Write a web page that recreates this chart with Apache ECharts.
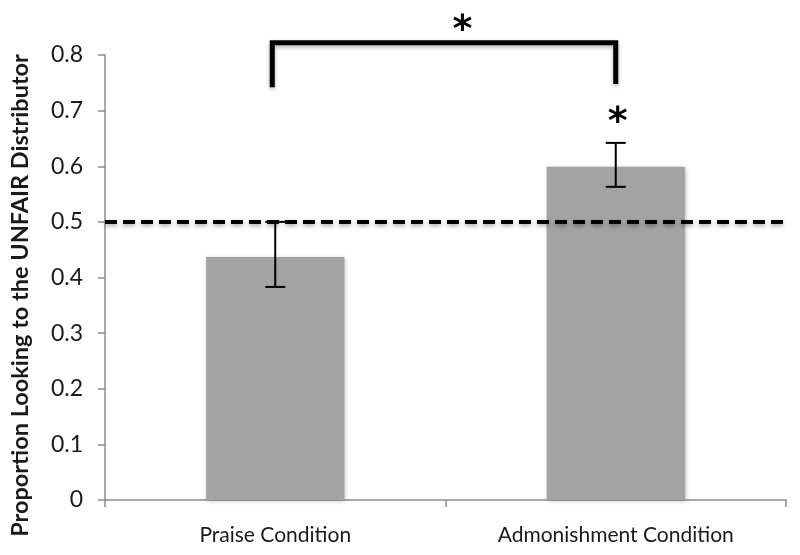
<!DOCTYPE html>
<html>
<head>
<meta charset="utf-8">
<script src="https://cdn.jsdelivr.net/npm/echarts@6/dist/echarts.min.js"></script>
<style>html,body{margin:0;padding:0;background:#fff}#c{width:800px;height:555px}</style>
</head>
<body>
<div id="c"></div>
<script>
const categories = ['Praise Condition', 'Admonishment Condition'];
const means = [0.437, 0.599];
const errLow = [0.383, 0.563];
const errHigh = [0.500, 0.642];
const chanceLevel = 0.5;
const yTicks = { min: 0, max: 0.8, interval: 0.1 };
// bracket: [left foot, right foot, top]
const bracket = [0.742, 0.748, 0.822];
const bracketStarY = 0.843;
const barStarY = 0.677;

const chart = echarts.init(document.getElementById('c'));
const font = 'Lato, "Open Sans", sans-serif';

chart.setOption({
  animation: false,
  grid: { left: 105, right: 14, top: 55, bottom: 55 },
  xAxis: {
    type: 'category',
    data: categories,
    boundaryGap: true,
    axisLine: { lineStyle: { color: '#8c8c8c', width: 1.5 } },
    axisTick: { show: true, length: 7, lineStyle: { color: '#8c8c8c', width: 1.5 } },
    axisLabel: { color: '#1a1a1a', fontSize: 21, fontFamily: font, margin: 25 }
  },
  yAxis: {
    type: 'value',
    min: yTicks.min, max: yTicks.max, interval: yTicks.interval,
    name: 'Proportion Looking to the UNFAIR Distributor',
    nameLocation: 'middle',
    nameGap: 73,
    nameTextStyle: { fontSize: 23.5, fontWeight: 'bold', color: '#1a1a1a', fontFamily: font, padding: [0, 36, 0, 0] },
    axisLine: { show: true, lineStyle: { color: '#8c8c8c', width: 1.5 } },
    axisTick: { show: true, length: 7, lineStyle: { color: '#8c8c8c', width: 1.5 } },
    splitLine: { show: false },
    axisLabel: { color: '#1a1a1a', fontSize: 23, fontFamily: font, margin: 22 }
  },
  series: [
    {
      type: 'bar',
      data: means,
      barWidth: '40.6%',
      itemStyle: { color: '#a3a3a3', shadowColor: 'rgba(0,0,0,0.25)', shadowBlur: 4, shadowOffsetX: 1, shadowOffsetY: 1 },
      markLine: {
        silent: true,
        symbol: 'none',
        label: { show: false },
        lineStyle: { color: '#000', width: 4, type: [12, 6], shadowColor: 'rgba(0,0,0,0.35)', shadowBlur: 4, shadowOffsetY: 2 },
        data: [{ yAxis: chanceLevel }]
      }
    },
    {
      type: 'custom',
      clip: false,
      data: categories.map((c, i) => [i, errLow[i], errHigh[i]]),
      renderItem: function (params, api) {
        const lo = api.coord([api.value(0), api.value(1)]);
        const hi = api.coord([api.value(0), api.value(2)]);
        const w = 10;
        const style = { stroke: '#000', lineWidth: 2 };
        return {
          type: 'group',
          children: [
            { type: 'line', shape: { x1: lo[0], y1: lo[1], x2: hi[0], y2: hi[1] }, style },
            { type: 'line', shape: { x1: lo[0] - w, y1: lo[1], x2: lo[0] + w, y2: lo[1] }, style },
            { type: 'line', shape: { x1: hi[0] - w, y1: hi[1], x2: hi[0] + w, y2: hi[1] }, style }
          ]
        };
      },
      z: 5
    },
    {
      type: 'custom',
      clip: false,
      data: [[0, 1, bracket[0], bracket[1], bracket[2], bracketStarY]],
      renderItem: function (params, api) {
        const l = api.coord([api.value(0), api.value(2)]);
        const r = api.coord([api.value(1), api.value(3)]);
        const tl = api.coord([api.value(0), api.value(4)]);
        const tr = api.coord([api.value(1), api.value(4)]);
        const star = api.coord([0.5, api.value(5)]);
        const style = { stroke: '#000', lineWidth: 5, fill: null, lineJoin: 'miter', shadowColor: 'rgba(0,0,0,0.3)', shadowBlur: 4, shadowOffsetY: 2 };
        return {
          type: 'group',
          children: [
            { type: 'polyline', shape: { points: [[l[0] - 3, l[1]], [tl[0] - 3, tl[1]], [tr[0], tr[1]], [r[0], r[1]]] }, style },
            { type: 'text', x: (tl[0] + tr[0]) / 2 + 17, y: star[1], style: { text: '*', fontSize: 38, fontWeight: 'bold', fill: '#000', align: 'center', verticalAlign: 'middle', fontFamily: 'DejaVu Sans' } }
          ]
        };
      },
      z: 6
    },
    {
      type: 'custom',
      clip: false,
      data: [[1, barStarY]],
      renderItem: function (params, api) {
        const p = api.coord([api.value(0), api.value(1)]);
        return { type: 'text', x: p[0] + 2, y: p[1], style: { text: '*', fontSize: 38, fontWeight: 'bold', fill: '#000', align: 'center', verticalAlign: 'middle', fontFamily: 'DejaVu Sans' } };
      },
      z: 6
    }
  ]
});
</script>
</body>
</html>
